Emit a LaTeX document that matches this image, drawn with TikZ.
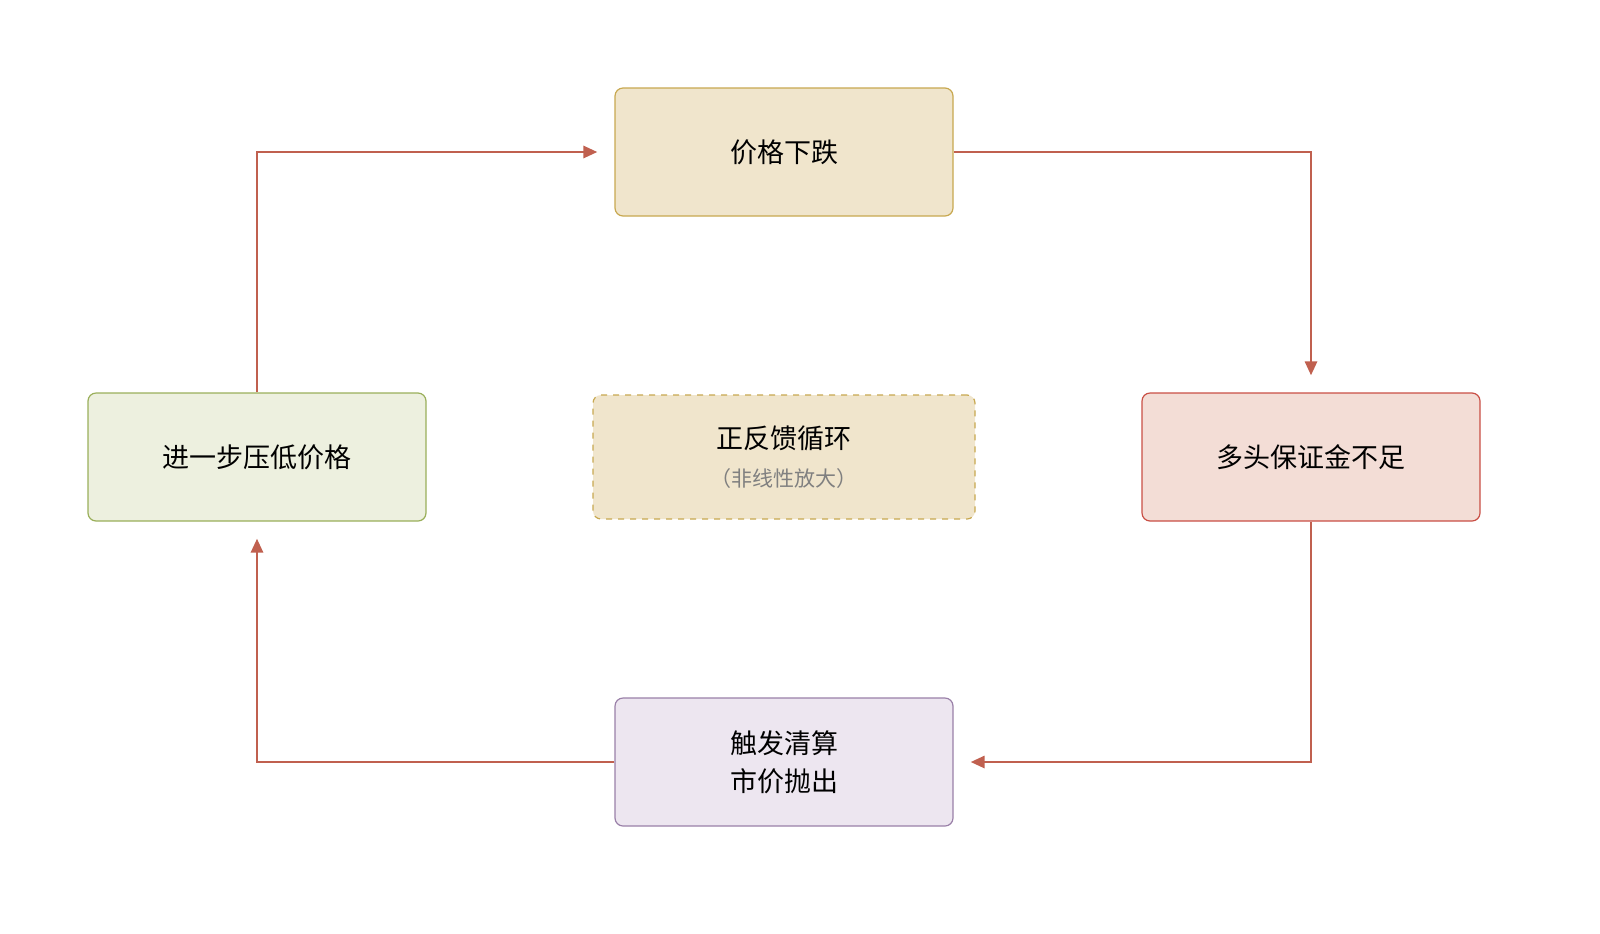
\documentclass[tikz,border=0pt]{standalone}
\usepackage{fontspec}
\setmainfont{Noto Sans CJK SC}
\usetikzlibrary{arrows.meta}
\definecolor{arr}{HTML}{C0604F}
\definecolor{tf}{HTML}{F0E5CC}\definecolor{tb}{HTML}{C8A850}
\definecolor{lf}{HTML}{EDF0DF}\definecolor{lb}{HTML}{9AAF5A}
\definecolor{rf}{HTML}{F3DDD6}\definecolor{rb}{HTML}{C94F45}
\definecolor{bf}{HTML}{EDE6F0}\definecolor{bb}{HTML}{9A80A8}
\begin{document}
\begin{tikzpicture}[x=0.5pt,y=-0.5pt,
 box/.style={draw,rounded corners=4pt,minimum width=169pt,minimum height=64pt,font=\fontsize{13.5}{19}\selectfont,align=center,line width=0.6pt},
 ar/.style={draw=arr,line width=1.4pt,-{Triangle[length=7pt,width=6pt]},shorten >=8.5pt}]
\useasboundingbox (0,0) rectangle (1600,933);
\node[box,fill=tf,draw=tb] (t) at (784,152) {价格下跌};
\node[box,fill=lf,draw=lb] (l) at (257,457) {进一步压低价格};
\node[box,fill=rf,draw=rb] (r) at (1311,457) {多头保证金不足};
\node[box,fill=bf,draw=bb] (b) at (784,762) {触发清算\\市价抛出};
\node[box,fill=tf,draw=tb,dashed,minimum width=191pt,minimum height=62pt] (m) at (784,457) {正反馈循环\\[0pt]{\fontsize{10.5}{13}\selectfont\color{gray}（非线性放大）}};
\draw[ar] (l.north) |- (t.west);
\draw[ar] (t.east) -| (r.north);
\draw[ar] (r.south) |- (b.east);
\draw[ar] (b.west) -| (l.south);
\end{tikzpicture}
\end{document}
